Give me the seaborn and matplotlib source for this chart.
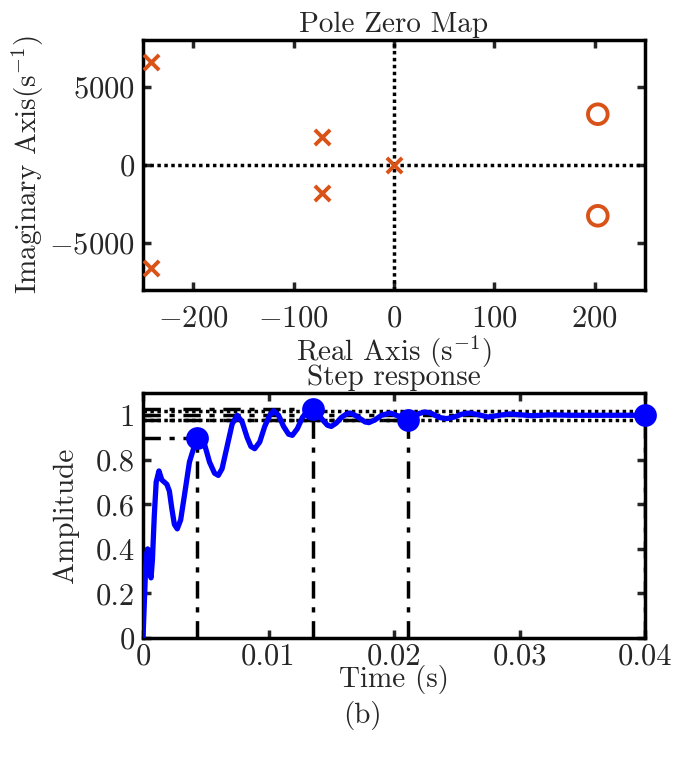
import numpy as np
import pandas as pd
import matplotlib
matplotlib.use("Agg")
import matplotlib.pyplot as plt
import seaborn as sns

# ---- data ----
pole_re = [-242, -242, -72, -72, 0]
pole_im = [6600, -6600, 1800, -1800, 0]
zero_re = [203, 203]
zero_im = [3250, -3250]

step_t = [0, 0.0001, 0.0002, 0.0003, 0.00037, 0.00045, 0.00055, 0.00064, 0.00075, 0.0009,
          0.00105, 0.00127, 0.0015, 0.0017, 0.0019, 0.0021, 0.0023, 0.0025, 0.00273, 0.0030,
          0.0033, 0.0037, 0.0043, 0.0045, 0.0049, 0.0053, 0.0057, 0.0060, 0.0063, 0.0067,
          0.0071, 0.0075, 0.0079, 0.0083, 0.0086, 0.0089, 0.0093, 0.0097, 0.0101, 0.0104,
          0.0108, 0.0112, 0.0116, 0.0119, 0.0123, 0.0127, 0.0131, 0.0135, 0.0139, 0.0143,
          0.0147, 0.0150, 0.0154, 0.0158, 0.0162, 0.0165, 0.0169, 0.0173, 0.0177, 0.0180,
          0.0185, 0.0190, 0.0197, 0.0202, 0.0207, 0.0212, 0.0216, 0.0220, 0.0225, 0.0230,
          0.0236, 0.0242, 0.0248, 0.0254, 0.0260, 0.0266, 0.0275, 0.0284, 0.0292, 0.0310,
          0.0325, 0.0340, 0.0400]
step_y = [0, 0.15, 0.30, 0.38, 0.40, 0.36, 0.29, 0.27, 0.35, 0.55,
          0.70, 0.75, 0.71, 0.70, 0.69, 0.66, 0.58, 0.51, 0.49, 0.53,
          0.64, 0.79, 0.90, 0.91, 0.87, 0.79, 0.74, 0.73, 0.76, 0.86,
          0.96, 1.00, 0.97, 0.90, 0.86, 0.85, 0.88, 0.95, 1.00, 1.02,
          1.00, 0.95, 0.915, 0.91, 0.94, 0.99, 1.02, 1.03, 1.01, 0.98,
          0.955, 0.95, 0.965, 0.99, 1.005, 1.01, 1.00, 0.985, 0.97, 0.967,
          0.98, 1.00, 1.01, 1.00, 0.985, 0.98, 0.99, 1.008, 1.015, 1.008,
          0.99, 0.985, 0.992, 1.005, 1.01, 1.004, 0.992, 1.00, 1.006, 0.998,
          1.002, 1.00, 1.00]

char_names = ["rise", "peak", "settle", "final"]
char_t = [0.0043, 0.01352, 0.0211, 0.04]
char_y = [0.90, 1.03, 0.98, 1.00]
settle_band = [0.98, 1.02]

x_ticks_pz = [-200, -100, 0, 100, 200]
y_ticks_pz = [-5000, 0, 5000]
x_ticks_step = [0, 0.01, 0.02, 0.03, 0.04]
x_ticklabels_step = ["0", "0.01", "0.02", "0.03", "0.04"]
y_ticks_step = [0, 0.2, 0.4, 0.6, 0.8, 1.0]
y_ticklabels_step = ["0", "0.2", "0.4", "0.6", "0.8", "1"]

# ---- style ----
sns.set_theme(style="white")
plt.rcParams['font.family'] = ['cmr10', 'DejaVu Serif']
plt.rcParams['mathtext.fontset'] = 'cm'
plt.rcParams['axes.formatter.use_mathtext'] = True
plt.rcParams['axes.linewidth'] = 2.5
plt.rcParams['axes.edgecolor'] = 'black'

FS = 21
TFS = 22
orange = '#D95319'

fig = plt.figure(figsize=(6.74, 7.58), dpi=100)
ax1 = fig.add_axes([143/674, 1-290/758, 502/674, 250/758])
ax2 = fig.add_axes([143/674, 1-638/758, 502/674, 245/758])

# ---- pole zero map ----
dots = (0, (1, 1))
ax1.axhline(0, color='black', ls=dots, lw=2.5, zorder=1)
ax1.axvline(0, color='black', ls=dots, lw=2.5, zorder=1)
poles = pd.DataFrame({"re": pole_re, "im": pole_im})
zeros = pd.DataFrame({"re": zero_re, "im": zero_im})
sns.scatterplot(data=poles, x="re", y="im", ax=ax1, marker='x', s=120,
                color=orange, linewidth=2.8, zorder=3)
sns.scatterplot(data=zeros, x="re", y="im", ax=ax1, marker='o', s=200,
                facecolor='none', edgecolor=orange, linewidth=2.8, zorder=3)
ax1.set_xlim(-250, 250)
ax1.set_ylim(-8000, 8000)
ax1.set_xticks(x_ticks_pz)
ax1.set_yticks(y_ticks_pz)
ax1.set_title("Pole Zero Map", fontsize=FS, pad=6)
ax1.set_xlabel("Real Axis (s$^{-1}$)", fontsize=FS, labelpad=1)
ax1.set_ylabel("Imaginary Axis(s$^{-1}$)", fontsize=FS, labelpad=2)

# ---- step response ----
kw = dict(color='black', lw=2.5, zorder=1)
dashdot = (0, (5, 2.5, 1.5, 2.5))
for v in settle_band:
    ax2.axhline(v, ls=(0, (1, 1)), **kw)
for name, t, y in zip(char_names, char_t, char_y):
    ax2.plot([0, t], [y, y], ls=dashdot, **kw)
    ax2.plot([t, t], [0, y], ls=dashdot, **kw)
step = pd.DataFrame({"t": step_t, "y": step_y})
sns.lineplot(data=step, x="t", y="y", ax=ax2, color='#0000FF', lw=3.8, zorder=3)
chars = pd.DataFrame({"t": char_t, "y": char_y})
sns.scatterplot(data=chars, x="t", y="y", ax=ax2, color='#0000FF', s=230,
                edgecolor='#0000FF', zorder=4, clip_on=False)
ax2.set_xlim(0, 0.04)
ax2.set_ylim(0, 1.1)
ax2.set_xticks(x_ticks_step)
ax2.set_xticklabels(x_ticklabels_step)
ax2.set_yticks(y_ticks_step)
ax2.set_yticklabels(y_ticklabels_step)
ax2.set_title("Step response", fontsize=FS, pad=6)
ax2.set_xlabel("Time (s)", fontsize=FS, labelpad=-4)
ax2.set_ylabel("Amplitude", fontsize=FS, labelpad=12)

for ax in (ax1, ax2):
    ax.tick_params(direction='in', length=6, width=2.5, labelsize=TFS,
                   top=True, right=True, bottom=True, left=True)
    ax.tick_params(axis='y', pad=6)
    for s in ax.spines.values():
        s.set_visible(True)
        s.set_linewidth(2.5)
        s.set_color('black')
ax1.tick_params(axis='x', pad=11)
ax2.tick_params(axis='x', pad=4)

fig.text(362/674, 1-715/758, "(b)", ha='center', va='center', fontsize=FS)

fig.savefig("out.png", dpi=100)
